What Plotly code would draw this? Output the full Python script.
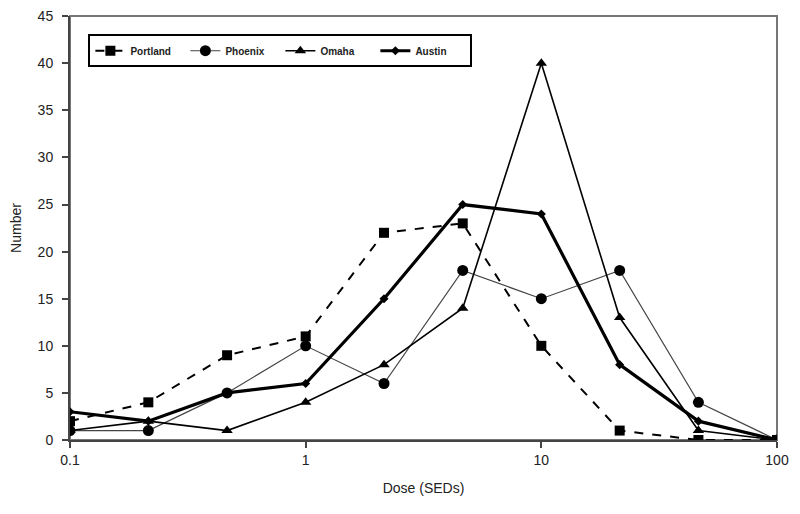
import plotly.graph_objects as go

dose = [0.1, 0.215, 0.464, 1, 2.15, 4.64, 10, 21.5, 46.4, 100]

portland = [2, 4, 9, 11, 22, 23, 10, 1, 0, 0]
phoenix = [1, 1, 5, 10, 6, 18, 15, 18, 4, 0]
omaha = [1, 2, 1, 4, 8, 14, 40, 13, 1, 0]
austin = [3, 2, 5, 6, 15, 25, 24, 8, 2, 0]

x_ticks = [0.1, 1, 10, 100]
x_tick_text = ["0.1", "1", "10", "100"]
y_ticks = [0, 5, 10, 15, 20, 25, 30, 35, 40, 45]

fig = go.Figure()
fig.add_trace(go.Scatter(
    x=dose, y=portland, name="Portland", mode="lines+markers",
    line=dict(color="black", width=2, dash="dash"),
    marker=dict(symbol="square", size=10, color="black"),
))
fig.add_trace(go.Scatter(
    x=dose, y=phoenix, name="Phoenix", mode="lines+markers",
    line=dict(color="#444444", width=1.2),
    marker=dict(symbol="circle", size=11, color="black"),
))
fig.add_trace(go.Scatter(
    x=dose, y=omaha, name="Omaha", mode="lines+markers",
    line=dict(color="black", width=1.6),
    marker=dict(symbol="triangle-up", size=10, color="black"),
))
fig.add_trace(go.Scatter(
    x=dose, y=austin, name="Austin", mode="lines+markers",
    line=dict(color="black", width=3.2),
    marker=dict(symbol="diamond", size=7, color="black"),
))

# the page has an 8px body margin, so margins are offset by it
fig.update_layout(
    width=800, height=514,
    paper_bgcolor="white", plot_bgcolor="white",
    margin=dict(l=62, r=31, t=8, b=82, autoexpand=False),
    font=dict(family="Liberation Sans, Arial, sans-serif", size=14, color="#222222"),
    legend=dict(
        orientation="h", x=0.026, y=0.957, xanchor="left", yanchor="top",
        bordercolor="black", borderwidth=2, bgcolor="white",
        font=dict(size=10, weight="bold"), entrywidth=50, tracegroupgap=0,
    ),
    xaxis=dict(
        type="log", range=[-1, 2], tickvals=x_ticks, ticktext=x_tick_text,
        showgrid=False, zeroline=False, showline=True, linecolor="#444444", linewidth=2,
        ticks="outside", ticklen=6, tickwidth=1.5, tickcolor="#444444",
        automargin=False,
        title=dict(text="Dose (SEDs)", standoff=16, font=dict(size=14)),
    ),
    yaxis=dict(
        range=[0, 45.02], tickvals=y_ticks, showgrid=False, zeroline=False,
        showline=True, linecolor="#444444", linewidth=2,
        ticks="outside", ticklen=6, tickwidth=1.5, tickcolor="#444444",
        ticklabelstandoff=6, automargin=False,
        title=dict(text="Number", standoff=20, font=dict(size=14)),
    ),
)

# top and right border of the plot frame
fig.add_shape(type="rect", xref="paper", yref="paper", x0=0, y0=0, x1=1, y1=1,
              line=dict(color="#777777", width=2), layer="below")

fig.write_html("out.html")
